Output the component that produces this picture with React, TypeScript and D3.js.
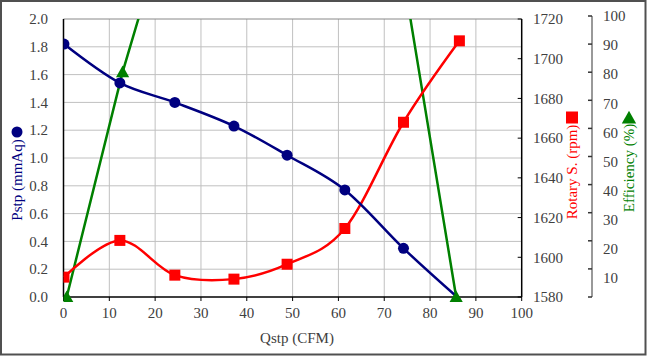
import React, { useEffect } from "react";
import * as d3 from "d3";

// ---- data ----
const qstp = [0.1, 12.3, 24.3, 37.2, 48.8, 61.4, 74.2, 85.9];
const pstp = [1.82, 1.54, 1.40, 1.23, 1.02, 0.77, 0.35, 0.0];
const rpmQ = [0.1, 12.3, 24.3, 37.2, 48.8, 61.4, 74.2, 86.4];
const rpm = [1590, 1608.5, 1591, 1589, 1596.5, 1614.5, 1668, 1709];
const effQ = [0.7, 12.9, 24.5, 37.2, 48.8, 61.4, 74.2, 85.7];
const eff = [0, 80, 144, 182, 200, 190, 114, 0];

const xTicks = [0, 10, 20, 30, 40, 50, 60, 70, 80, 90, 100];
const pTicks = [0, 0.2, 0.4, 0.6, 0.8, 1.0, 1.2, 1.4, 1.6, 1.8, 2.0];
const rTicks = [1580, 1600, 1620, 1640, 1660, 1680, 1700, 1720];
const eTicks = [0, 10, 20, 30, 40, 50, 60, 70, 80, 90, 100];
const eLabels = [10, 20, 30, 40, 50, 60, 70, 80, 90, 100];

const W = 647;
const H = 356;
const L = 63.5, R = 521.7, T = 19, B = 297;
const FONT = "Liberation Serif, DejaVu Serif, Times New Roman, serif";
const BLUE = "#000080";
const RED = "#ff0000";
const GREEN = "#008000";
const TXT = "#404040";

export default function App() {
  useEffect(() => {
    document.body.style.margin = "0";
  }, []);

  const x = d3.scaleLinear().domain([0, 100]).range([L, R]);
  const yP = d3.scaleLinear().domain([0, 2]).range([B, T]);
  const yR = d3.scaleLinear().domain([1580, 1720]).range([B, T]);
  const yE = d3.scaleLinear().domain([0, 100]).range([B, 16]);
  const yELab = d3.scaleLinear().domain([10, 100]).range([278, 16]);
  const effAxisX = 592;

  const pLine = d3
    .line<number>()
    .x((_, i) => x(qstp[i]))
    .y((d) => yP(d))
    .curve(d3.curveCardinal.tension(0));
  const rLine = d3
    .line<number>()
    .x((_, i) => x(rpmQ[i]))
    .y((d) => yR(d))
    .curve(d3.curveCardinal.tension(0));
  const eLine = d3
    .line<number>()
    .x((_, i) => x(effQ[i]))
    .y((d) => yE(d));

  const tri = (cx: number, cy: number, s: number) =>
    `M${cx},${cy - s * 0.6} L${cx + s * 0.6},${cy + s * 0.45} L${cx - s * 0.6},${cy + s * 0.45} Z`;

  return (
    <svg width={W} height={H} style={{ display: "block" }} fontFamily={FONT}>
      <rect x={0} y={0} width={W} height={H} fill="#fff" />
      <rect x={1} y={1} width={W - 2.5} height={H - 2.5} fill="none" stroke="#505050" strokeWidth={2} />
      <defs>
        <clipPath id="plotClip">
          <rect x={L} y={T} width={R - L} height={B - T + 8} />
        </clipPath>
      </defs>

      {/* grid */}
      {xTicks.slice(1, -1).map((t) => (
        <line key={"gx" + t} x1={x(t)} x2={x(t)} y1={T} y2={B} stroke="#c0c0c0" strokeWidth={1} />
      ))}
      {pTicks.slice(1, -1).map((t) => (
        <line key={"gy" + t} x1={L} x2={R} y1={yP(t)} y2={yP(t)} stroke="#c0c0c0" strokeWidth={1} />
      ))}
      <line x1={L} x2={R} y1={T} y2={T} stroke="#888" strokeWidth={1} />

      {/* axes */}
      <line x1={L} x2={L} y1={T} y2={B} stroke="#000" strokeWidth={1.5} />
      <line x1={L} x2={R} y1={B} y2={B} stroke="#000" strokeWidth={1.5} />
      <line x1={R} x2={R} y1={T} y2={B} stroke="#000" strokeWidth={1.5} />
      <g fontFamily={FONT} fontSize={15} fill={TXT}>
        {xTicks.map((t) => (
          <g key={"xt" + t}>
            <line x1={x(t)} x2={x(t)} y1={B} y2={B + 4} stroke="#000" strokeWidth={1} />
            <text x={x(t)} y={313} dy="0.35em" textAnchor="middle">
              {t}
            </text>
          </g>
        ))}
        {pTicks.map((t) => (
          <text key={"pt" + t} x={48} y={yP(t)} dy="0.35em" textAnchor="end">
            {t.toFixed(1)}
          </text>
        ))}
        {rTicks.map((t) => (
          <g key={"rt" + t}>
            <line x1={R - 4} x2={R} y1={yR(t)} y2={yR(t)} stroke="#000" strokeWidth={1} />
            <text x={533} y={yR(t)} dy="0.35em" textAnchor="start">
              {t}
            </text>
          </g>
        ))}
        <line x1={effAxisX} x2={effAxisX} y1={yE(100)} y2={B} stroke="#777" strokeWidth={1.5} />
        {eTicks.map((t) => (
          <line key={"et" + t} x1={effAxisX - 4} x2={effAxisX} y1={yE(t)} y2={yE(t)} stroke="#333" strokeWidth={1.5} />
        ))}
        {eLabels.map((t) => (
          <text key={"el" + t} x={603} y={yELab(t)} dy="0.35em" textAnchor="start">
            {t}
          </text>
        ))}
      </g>

      {/* series */}
      <g clipPath="url(#plotClip)">
        <path d={eLine(eff) || ""} fill="none" stroke={GREEN} strokeWidth={2.5} />
        <path d={rLine(rpm) || ""} fill="none" stroke={RED} strokeWidth={2.5} />
        <path d={pLine(pstp) || ""} fill="none" stroke={BLUE} strokeWidth={2.5} />
        {eff.map((v, i) =>
          v <= 100 ? <path key={"em" + i} d={tri(x(effQ[i]), yE(v), 11)} fill={GREEN} /> : null
        )}
        {rpm.map((v, i) => (
          <rect key={"rm" + i} x={x(rpmQ[i]) - 5.5} y={yR(v) - 5.5} width={11} height={11} fill={RED} />
        ))}
        {pstp.map((v, i) =>
          v > 0 ? <circle key={"pm" + i} cx={x(qstp[i])} cy={yP(v)} r={5.5} fill={BLUE} /> : null
        )}
      </g>

      {/* axis titles */}
      <g fontFamily={FONT} fontSize={15}>
        <circle cx={17} cy={132} r={5.5} fill={BLUE} />
        <text transform="translate(17,180) rotate(-90)" dy="0.35em" textAnchor="middle" fill={BLUE}>
          Pstp (mmAq)
        </text>
        <rect x={566} y={111.5} width={12} height={12} fill={RED} />
        <text transform="translate(572,172) rotate(-90)" dy="0.35em" textAnchor="middle" fill={RED}>
          Rotary S. (rpm)
        </text>
        <path d={tri(629, 118, 12)} fill={GREEN} />
        <text transform="translate(629,168) rotate(-90)" dy="0.35em" textAnchor="middle" fill={GREEN}>
          Efficiency (%)
        </text>
        <text x={297} y={338} dy="0.35em" textAnchor="middle" fill={TXT}>
          Qstp (CFM)
        </text>
      </g>
    </svg>
  );
}
